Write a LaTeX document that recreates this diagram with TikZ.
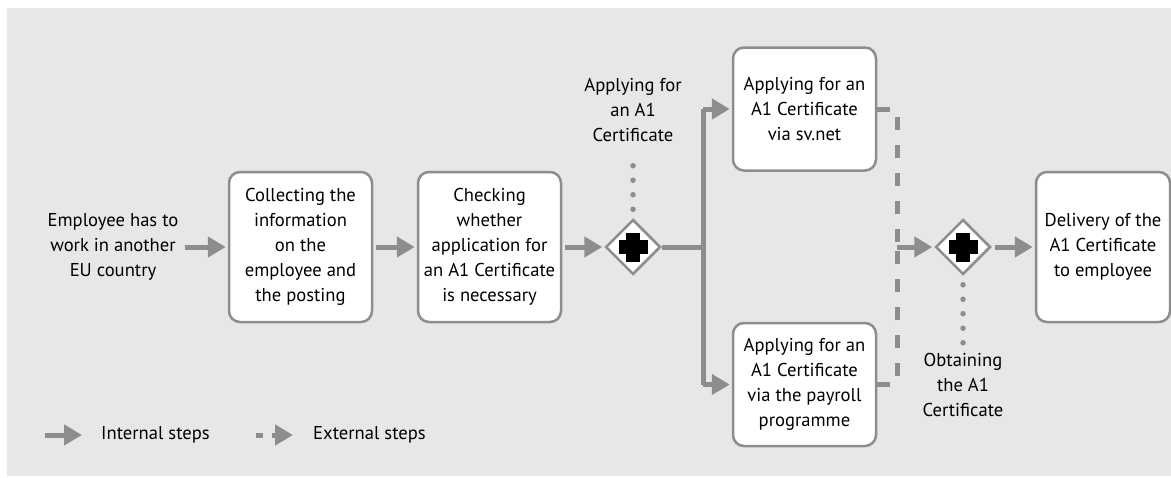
\documentclass[tikz,border=0pt]{standalone}
\usepackage{fontspec}
\setmainfont{PT Sans}
\usetikzlibrary{arrows.meta,positioning,shapes.geometric}

\definecolor{bggray}{HTML}{E6E7E8}
\definecolor{flowgray}{HTML}{8C8D8F}

\tikzset{
	txt/.style={font=\fontsize{18.6}{25}\selectfont, align=center, inner sep=0pt},
	task/.style={txt, draw=flowgray, line width=2.5pt, fill=white, rounded corners=11pt,
		minimum width=143pt, minimum height=150pt},
	gateway/.style={diamond, draw=flowgray, line width=2.5pt, fill=white, inner sep=0pt,
		minimum width=55pt, minimum height=55pt,
		path picture={
			\fill[black] ([xshift=-14.5pt,yshift=-7pt]path picture bounding box.center) rectangle ++(29pt,14pt);
			\fill[black] ([xshift=-7pt,yshift=-14.5pt]path picture bounding box.center) rectangle ++(14pt,29pt);
		}},
	flowline/.style={draw=flowgray, line width=5pt},
	flow/.style={flowline, -{Triangle[length=18pt,width=20pt]}, shorten >=2pt},
	extline/.style={flowline, dash pattern=on 13pt off 15pt},
	dotline/.style={draw=flowgray, line width=5.5pt, line cap=round, dash pattern=on 0pt off 14.5pt}
}

\begin{document}
\begin{tikzpicture}[x=1pt, y=-1pt]
	\useasboundingbox (0, 0) rectangle (1171, 477);
	\fill[bggray] (7, 8) rectangle (1171, 476);

	% process
	\node[txt] (start) at (113, 247) {Employee has to\\work in another\\EU country};
	\node[task] (collect) at (300.5, 247) {Collecting the\\information\\on the\\employee and\\the posting};
	\node[task] (check) at (489.5, 247) {Checking\\whether\\application for\\an A1 Certificate\\is necessary};
	\node[gateway] (split) at (633, 247) {};
	\node[task, minimum height=123pt] (svnet) at (804.5, 109) {Applying for an\\A1 Certificate\\via sv.net};
	\node[task, minimum height=123pt] (payroll) at (804.5, 384.5) {Applying for an\\A1 Certificate\\via the payroll\\programme};
	\node[gateway] (merge) at (963, 247) {};
	\node[task, minimum width=134pt] (deliver) at (1103, 247) {Delivery of the\\A1 Certificate\\to employee};

	\node[txt, anchor=south] (applylbl) at (633, 142) {Applying for\\an A1\\Certificate};
	\node[txt, anchor=north] (obtainlbl) at (963, 353) {Obtaining\\the A1\\Certificate};

	\coordinate (fork) at (703, 247);
	\coordinate (join) at (897, 247);

	% connectors
	\draw[flow] ([xshift=6pt]start.east) -- (collect);
	\draw[flow] ([xshift=3pt]collect.east) -- (check);
	\draw[flow] ([xshift=3pt]check.east) -- (split);
	\draw[flowline] (split.east) -- (fork);
	\draw[flowline] (fork) -- (fork |- svnet.west);
	\draw[flowline] (fork) -- (fork |- payroll.west);
	\draw[flow] (fork |- svnet.west) -- (svnet);
	\draw[flow] (fork |- payroll.west) -- (payroll);
	\draw[extline] (svnet.east) -| (join);
	\draw[extline] (payroll.east) -| (join);
	\draw[flow] (join) -- (merge);
	\draw[flow] ([xshift=3pt]merge.east) -- (deliver);

	\draw[dotline] ([yshift=9pt]split.north) -- ([yshift=-9.5pt]applylbl.south);
	\draw[dotline] ([yshift=-9pt]merge.south) -- ([yshift=9.5pt]obtainlbl.north);

	% legend
	\coordinate (inta) at (45, 435);
	\coordinate (intb) at (82, 435);
	\coordinate (exta) at (256, 435);
	\coordinate (extb) at (293, 435);
	\draw[flowline, -{Triangle[length=18pt,width=20pt]}] (inta) -- (intb);
	\draw[flowline, dash pattern=on 7pt off 9pt, -{Triangle[length=18pt,width=20pt]}] (exta) -- (extb);
	\node[txt, anchor=west] (intlbl) at (101, 435) {Internal steps};
	\node[txt, anchor=west] (extlbl) at (313, 435) {External steps};
\end{tikzpicture}
\end{document}
